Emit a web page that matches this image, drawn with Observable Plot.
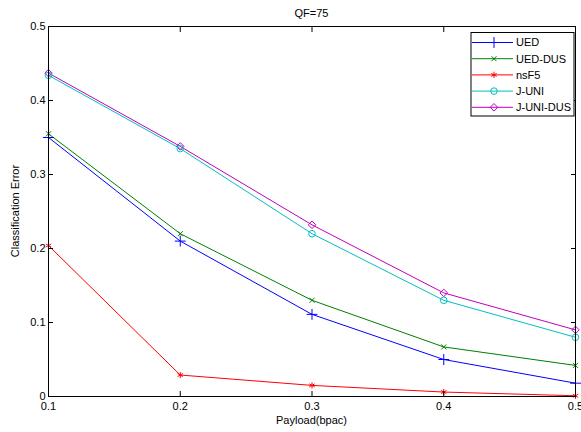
<!DOCTYPE html>
<html><head><meta charset="utf-8">
<script src="https://cdn.jsdelivr.net/npm/d3@7"></script>
<script src="https://cdn.jsdelivr.net/npm/@observablehq/plot@0.6"></script>
<style>
body{margin:0;background:#fff}
#chart svg{font-family:Arial,"Liberation Sans",Helvetica,sans-serif;overflow:hidden}
</style>
</head><body><div id="chart"></div>
<script>
// ---- data ----
const payload = [0.1, 0.2, 0.3, 0.4, 0.5];
const seriesNames = ["UED", "UED-DUS", "nsF5", "J-UNI", "J-UNI-DUS"];
const uedValues     = [0.350, 0.210, 0.111, 0.050, 0.018];
const uedDusValues  = [0.355, 0.220, 0.130, 0.067, 0.042];
const nsF5Values    = [0.204, 0.029, 0.015, 0.006, 0.001];
const jUniValues    = [0.434, 0.335, 0.220, 0.130, 0.080];
const jUniDusValues = [0.437, 0.338, 0.232, 0.140, 0.090];
const xTicks = [0.1, 0.2, 0.3, 0.4, 0.5];
const yTicks = [0, 0.1, 0.2, 0.3, 0.4, 0.5];
const titleText = "QF=75";
const xLabel = "Payload(bpac)";
const yLabel = "Classification Error";

// ---- styles ----
const colors = ["#0000ff", "#008000", "#ff0000", "#00bfbf", "#bf00bf"];
const symbols = ["plus", "times", "asterisk", "circle", "diamond2"];
const markerR = [3.6, 2.4, 2.9, 3.3, 3.4];
const d3Symbols = [d3.symbolPlus, d3.symbolTimes, d3.symbolAsterisk, d3.symbolCircle, d3.symbolDiamond2];

const allValues = [uedValues, uedDusValues, nsF5Values, jUniValues, jUniDusValues];
const data = [];
seriesNames.forEach((s, i) => payload.forEach((p, j) => data.push({series: s, idx: i, x: p, y: allValues[i][j]})));

const W = 581, H = 432;
const margin = {left: 48, right: 6, top: 26, bottom: 36};
const fmt = d => d === 0 ? "0" : String(d);

const plot = Plot.plot({
  width: W, height: H,
  marginLeft: margin.left, marginRight: margin.right, marginTop: margin.top, marginBottom: margin.bottom,
  style: {fontSize: "11px", color: "#000", background: "#fff"},
  x: {domain: [0.1, 0.5]},
  y: {domain: [0, 0.5]},
  r: {type: "identity"},
  color: {domain: seriesNames, range: colors},
  symbol: {domain: seriesNames, range: symbols},
  marks: [
    Plot.line(data, {x: "x", y: "y", z: "series", stroke: "series", strokeWidth: 1}),
    Plot.dot(data, {x: "x", y: "y", stroke: "series", symbol: "series", r: d => markerR[d.idx], strokeWidth: 1}),
    Plot.frame({stroke: "#000", strokeWidth: 1}),
    Plot.axisX({anchor: "bottom", ticks: xTicks, tickSize: 0, tickPadding: 6, tickFormat: fmt, label: null}),
    Plot.axisY({anchor: "left", ticks: yTicks, tickSize: 0, tickPadding: 3, tickFormat: fmt, label: null}),
    Plot.axisX({anchor: "bottom", ticks: xTicks, tickSize: -5, text: null, label: null}),
    Plot.axisX({anchor: "top", ticks: xTicks, tickSize: -5, text: null, label: null}),
    Plot.axisY({anchor: "left", ticks: yTicks, tickSize: -5, text: null, label: null}),
    Plot.axisY({anchor: "right", ticks: yTicks, tickSize: -5, text: null, label: null})
  ]
});
document.getElementById("chart").appendChild(plot);

const svg = d3.select(plot);
const plotW = W - margin.left - margin.right, plotH = H - margin.top - margin.bottom;
// title
svg.append("text").attr("x", margin.left + plotW / 2).attr("y", 17)
  .attr("text-anchor", "middle").attr("font-size", 11).text(titleText);
// x label
svg.append("text").attr("x", margin.left + plotW / 2).attr("y", 424)
  .attr("text-anchor", "middle").attr("font-size", 11).text(xLabel);
// y label
svg.append("text").attr("transform", `translate(19,${margin.top + plotH / 2}) rotate(-90)`)
  .attr("text-anchor", "middle").attr("font-size", 11).text(yLabel);

// legend
const lg = svg.append("g").attr("transform", `translate(471,32.5)`);
lg.append("rect").attr("x", 0).attr("y", 0).attr("width", 103).attr("height", 83.5)
  .attr("fill", "#fff").attr("stroke", "#000").attr("stroke-width", 1);
seriesNames.forEach((s, i) => {
  const yy = 10 + i * 16.2;
  lg.append("line").attr("x1", 1).attr("x2", 42).attr("y1", yy).attr("y2", yy)
    .attr("stroke", colors[i]).attr("stroke-width", 1);
  lg.append("path").attr("d", d3.symbol(d3Symbols[i], markerR[i] * markerR[i] * Math.PI)())
    .attr("transform", `translate(23,${yy})`).attr("fill", "none").attr("stroke", colors[i]).attr("stroke-width", 1);
  lg.append("text").attr("x", 45).attr("y", yy).attr("dy", "0.35em").attr("font-size", 11)
    .attr("text-anchor", "start").text(s);
});
</script>
</body></html>
